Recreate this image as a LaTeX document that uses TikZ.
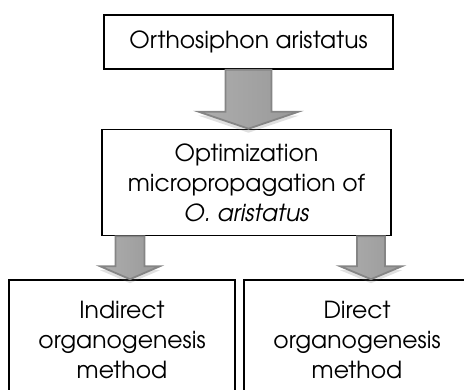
\documentclass[tikz,border=0pt]{standalone}
\usepackage{fontspec}
\setmainfont{TeX Gyre Adventor}
\usetikzlibrary{calc,shadows}
\tikzset{
  box/.style={draw=black, line width=1.6pt, fill=white, align=center, inner sep=0pt,
    font=\fontsize{23.5}{30}\selectfont},
  arrowstyle/.style={draw=black!48, line width=1.8pt, line join=miter,
    left color=black!32, middle color=black!16, right color=black!40,
    drop shadow={shadow xshift=0pt, shadow yshift=-4pt, opacity=0.2, fill=black!60}},
}
\newcommand\blkarrow[5]{%
  \path[arrowstyle] let \p1=(#1), \p2=(#2) in
    (\x1-#3,\y1) -- (\x1-#3,\y2+#5) -- (\x1-#4,\y2+#5) -- (\x1,\y2)
    -- (\x1+#4,\y2+#5) -- (\x1+#3,\y2+#5) -- (\x1+#3,\y1) -- cycle;}
\begin{document}
\begin{tikzpicture}[x=1pt,y=-1pt]
  \useasboundingbox (0,0) rectangle (464,389);
  \clip (0,0) rectangle (464,389);
  \node[box, minimum width=289pt, minimum height=54pt] (b1) at (248.5,42) {Orthosiphon aristatus};
  \node[box, minimum width=289pt, minimum height=106pt] (b2) at (246.5,182.5)
    {Optimization\\micropropagation of\\\textit{O. aristatus}};
  \node[box, minimum width=226pt, minimum height=120pt] (b3) at (122,340)
    {Indirect\\organogenesis\\method};
  \node[box, minimum width=226pt, minimum height=120pt] (b4) at (357,340)
    {Direct\\organogenesis\\method};
  \coordinate (a2) at ([xshift=-116.5pt]b2.south);
  \coordinate (a3) at ([xshift=124.5pt]b2.south);
  \blkarrow{b1.south}{b2.north}{23pt}{50pt}{17pt}
  \blkarrow{a2}{b3.north}{14.5pt}{30pt}{13pt}
  \blkarrow{a3}{b4.north}{14pt}{31pt}{13pt}
\end{tikzpicture}
\end{document}
